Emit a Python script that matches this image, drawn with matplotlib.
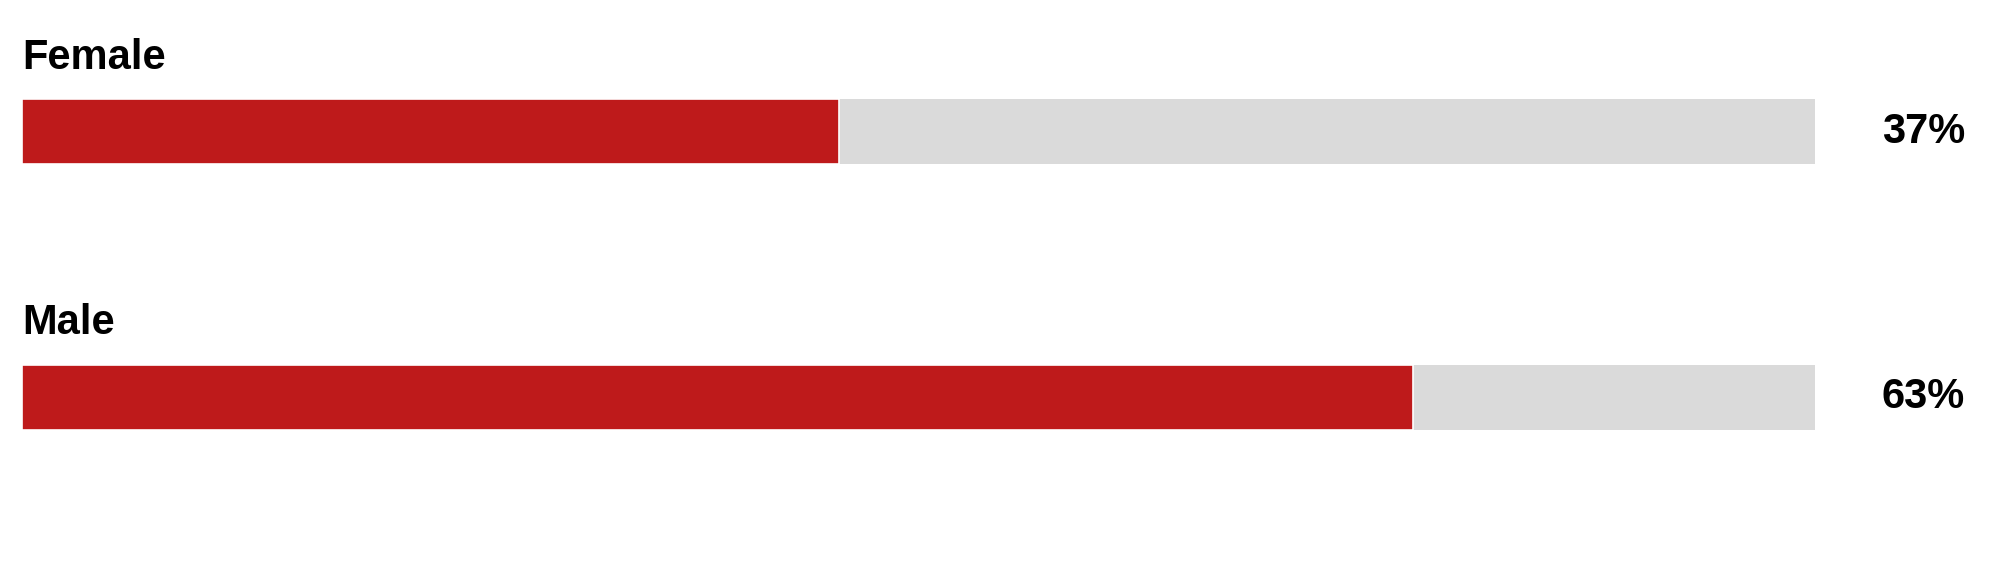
import matplotlib
matplotlib.use("Agg")
import matplotlib.pyplot as plt

# data
groups = ["Female", "Male"]
shares = [37, 63]
labels = ["37%", "63%"]
track_max = 81.2   # grey track length in the same units as the shares

red = "#BE1A1B"
grey = "#DADADA"

plt.rcParams["font.family"] = ["Liberation Sans", "DejaVu Sans"]

fig = plt.figure(figsize=(20, 5.7), dpi=100)
ax = fig.add_axes([22 / 2000, 0, 1793 / 2000, 1])

bar_h = 0.245
for i, (g, v, lab) in enumerate(zip(groups, shares, labels)):
    ax.barh(i, track_max, height=bar_h, color=grey, linewidth=0)
    ax.barh(i, v, height=bar_h, color=red, edgecolor="white", linewidth=1.2)
    ax.text(0, i - 0.2375, g, ha="left", va="baseline",
            fontsize=30, fontweight="bold", color="black")
    ax.text(track_max + 4.9, i, lab, ha="center", va="center",
            fontsize=30, fontweight="bold", color="black", clip_on=False)

ax.set_xlim(0, track_max)
ax.set_ylim(1.65, -0.497)
ax.axis("off")

fig.savefig("out.png", dpi=100, facecolor="white")
